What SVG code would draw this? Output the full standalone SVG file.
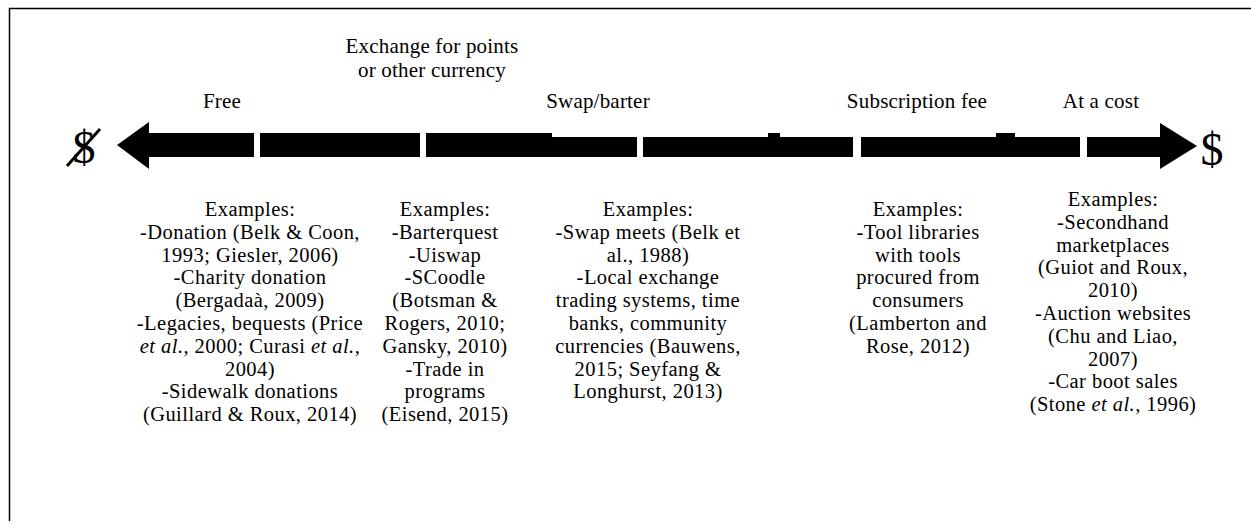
<svg xmlns="http://www.w3.org/2000/svg" width="1251" height="529" viewBox="0 0 1251 529">
<style>
text{font-family:"Liberation Serif","Times New Roman",serif;font-size:20.5px;letter-spacing:0.45px;fill:#000;text-anchor:middle}
.top{font-size:21px;letter-spacing:0.2px}
.big{font-size:46px;letter-spacing:0}
.it{font-style:italic}
.bar{fill:#000}
</style>
<rect width="1251" height="529" fill="#fff"/>
<path d="M9.5,521 V8.5 H1251" fill="none" stroke="#000" stroke-width="1.5"/>
<g id="connectors">
<polygon class="bar" points="117,145 149,122 149,169"/>
<rect class="bar" x="149" y="133" width="105" height="24"/>
<rect class="bar" x="260" y="133" width="160" height="24"/>
<rect class="bar" x="426" y="133" width="126" height="24"/>
<rect class="bar" x="552" y="137" width="85" height="20"/>
<rect class="bar" x="643" y="137" width="210" height="20"/>
<rect class="bar" x="768" y="133" width="12" height="4"/>
<rect class="bar" x="861" y="137" width="219" height="20"/>
<rect class="bar" x="996" y="133" width="19" height="4"/>
<rect class="bar" x="1087" y="137" width="73" height="20"/>
<polygon class="bar" points="1160,123 1197,146 1160,169"/>
</g>
<g id="endpoint-free">
<text class="big" x="84" y="163">$</text>
<line x1="67" y1="166" x2="100" y2="129" stroke="#000" stroke-width="3"/>
</g>
<g id="endpoint-cost">
<text class="big" x="1212" y="165">$</text>
</g>
<g id="label-free"><text class="top" x="222" y="108">Free</text></g>
<g id="label-exchange"><text class="top" x="432" y="53">Exchange for points</text><text class="top" x="432" y="77">or other currency</text></g>
<g id="label-swap"><text class="top" x="598" y="108">Swap/barter</text></g>
<g id="label-subscription"><text class="top" x="917" y="108">Subscription fee</text></g>
<g id="label-cost"><text class="top" x="1101" y="108">At a cost</text></g>
<g id="examples-free">
<text x="250" y="216">Examples:</text>
<text x="250" y="238.8">-Donation (Belk &amp; Coon,</text>
<text x="250" y="261.6">1993; Giesler, 2006)</text>
<text x="250" y="284.4">-Charity donation</text>
<text x="250" y="307.2">(Bergadaà, 2009)</text>
<text x="250" y="330">-Legacies, bequests (Price</text>
<text x="250" y="352.8"><tspan class="it">et al.,</tspan> 2000; Curasi <tspan class="it">et al.,</tspan></text>
<text x="250" y="375.6">2004)</text>
<text x="250" y="398.4">-Sidewalk donations</text>
<text x="250" y="421.2">(Guillard &amp; Roux, 2014)</text>
</g>
<g id="examples-exchange">
<text x="445" y="216">Examples:</text>
<text x="445" y="238.8">-Barterquest</text>
<text x="445" y="261.6">-Uiswap</text>
<text x="445" y="284.4">-SCoodle</text>
<text x="445" y="307.2">(Botsman &amp;</text>
<text x="445" y="330">Rogers, 2010;</text>
<text x="445" y="352.8">Gansky, 2010)</text>
<text x="445" y="375.6">-Trade in</text>
<text x="445" y="398.4">programs</text>
<text x="445" y="421.2">(Eisend, 2015)</text>
</g>
<g id="examples-swap">
<text x="648" y="216">Examples:</text>
<text x="648" y="238.8">-Swap meets (Belk et</text>
<text x="648" y="261.6">al., 1988)</text>
<text x="648" y="284.4">-Local exchange</text>
<text x="648" y="307.2">trading systems, time</text>
<text x="648" y="330">banks, community</text>
<text x="648" y="352.8">currencies (Bauwens,</text>
<text x="648" y="375.6">2015; Seyfang &amp;</text>
<text x="648" y="398.4">Longhurst, 2013)</text>
</g>
<g id="examples-subscription">
<text x="918" y="216">Examples:</text>
<text x="918" y="238.8">-Tool libraries</text>
<text x="918" y="261.6">with tools</text>
<text x="918" y="284.4">procured from</text>
<text x="918" y="307.2">consumers</text>
<text x="918" y="330">(Lamberton and</text>
<text x="918" y="352.8">Rose, 2012)</text>
</g>
<g id="examples-cost">
<text x="1113" y="206">Examples:</text>
<text x="1113" y="228.8">-Secondhand</text>
<text x="1113" y="251.6">marketplaces</text>
<text x="1113" y="274.4">(Guiot and Roux,</text>
<text x="1113" y="297.2">2010)</text>
<text x="1113" y="320">-Auction websites</text>
<text x="1113" y="342.8">(Chu and Liao,</text>
<text x="1113" y="365.6">2007)</text>
<text x="1113" y="388.4">-Car boot sales</text>
<text x="1113" y="411.2">(Stone <tspan class="it">et al.,</tspan> 1996)</text>
</g>
</svg>
